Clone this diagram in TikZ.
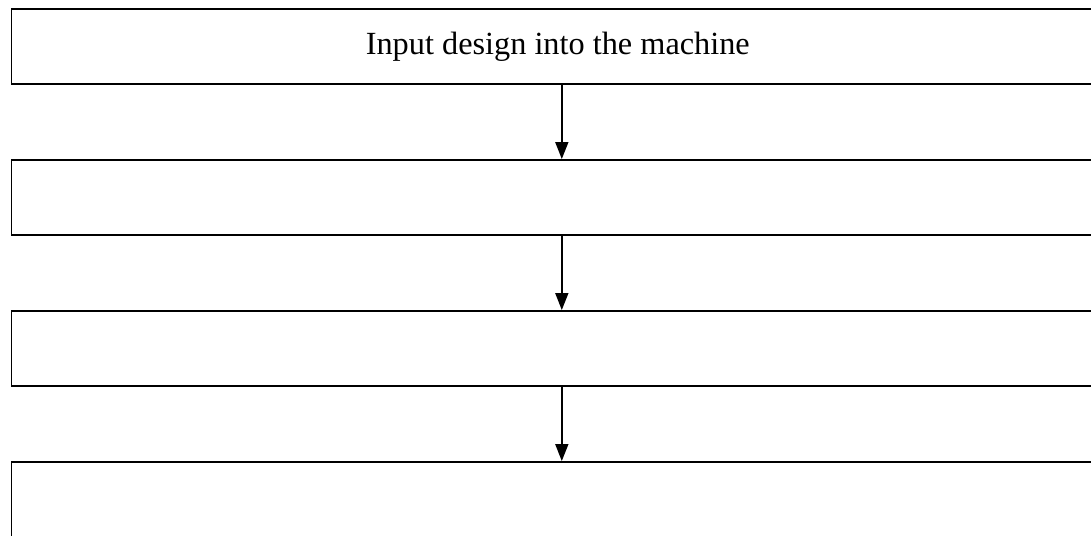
\documentclass[tikz,border=0pt]{standalone}
\usepackage{fontspec}
\setmainfont{Liberation Serif}
\usetikzlibrary{arrows.meta}
\begin{document}
\begin{tikzpicture}[x=1pt,y=-1pt,
  box/.style={draw, line width=1.6pt, minimum width=1093pt, minimum height=75pt, anchor=north west, inner sep=0pt, font=\fontsize{32.3}{38}\selectfont},
  flow/.style={line width=1.8pt, -{Triangle[length=17pt,width=13pt]}}]
\useasboundingbox (0,0) rectangle (1091,535);
\clip (0,0) rectangle (1091,535);
\node[box] (b1) at (10.5,8) {Input design into the machine};
\node[box] (b2) at (10.5,159) {};
\node[box] (b3) at (10.5,310) {};
\node[box] (b4) at (10.5,461) {};
\draw[flow] ([xshift=4pt]b1.south) -- ([xshift=4pt]b2.north);
\draw[flow] ([xshift=4pt]b2.south) -- ([xshift=4pt]b3.north);
\draw[flow] ([xshift=4pt]b3.south) -- ([xshift=4pt]b4.north);
\end{tikzpicture}
\end{document}
